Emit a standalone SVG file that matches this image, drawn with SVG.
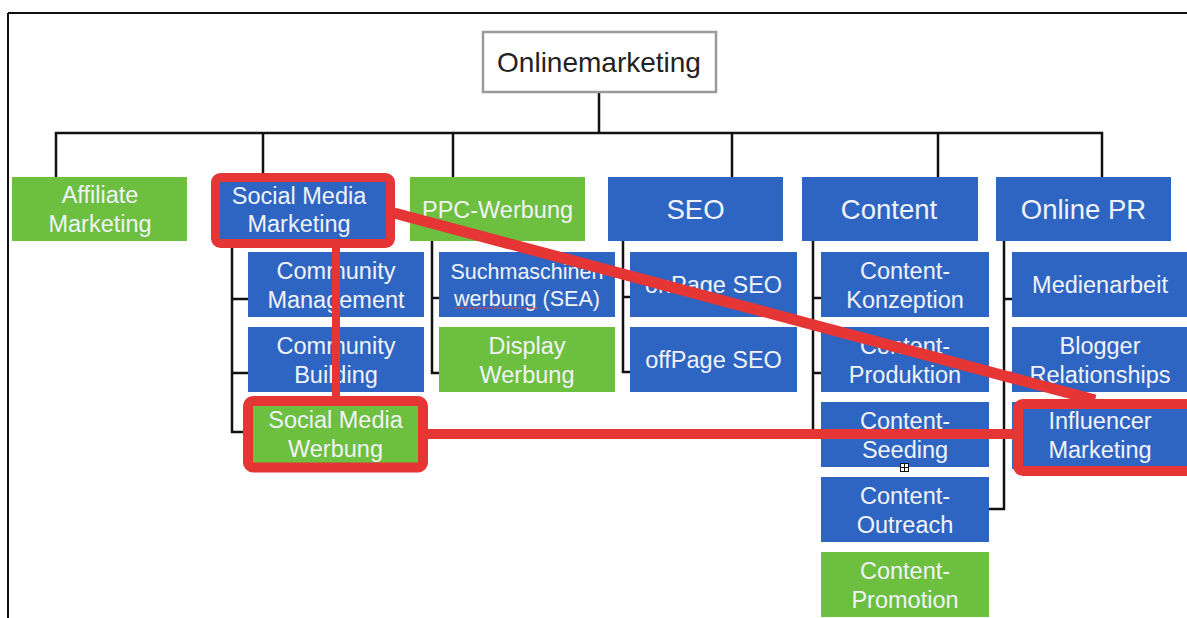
<svg xmlns="http://www.w3.org/2000/svg" width="1187" height="618" viewBox="0 0 1187 618">
<style>
.bl{fill:#2f65c2}
.gr{fill:#6dbf3f}
.t{font-family:"Liberation Sans",Arial,Helvetica,sans-serif;font-size:23.5px;fill:#f1f3f8;text-anchor:middle}
.t27{font-size:27.5px}
.t21{font-size:21.5px}
.con{stroke:#111;stroke-width:2.5;fill:none;stroke-linecap:square}
.red{stroke:#e63535;fill:none;stroke-linejoin:round}
</style>
<rect width="1187" height="618" fill="#fff"/>
<path d="M8 13 H1187 M8 13 V618" stroke="#111" stroke-width="2" fill="none"/>

<g id="connectors" class="con">
<path d="M599 92 V133 M56 133 H1102 M56 133 V177 M263 133 V177 M453 133 V177 M732 133 V177 M938 133 V177 M1102 133 V177"/>
<path d="M232 244 V432 M232 299 H248 M232 373 H248 M232 432 H248"/>
<path d="M432 241 V373 M432 298 H439 M432 373 H439"/>
<path d="M623 241 V372 M623 297 H630 M623 372 H630"/>
<path d="M813 241 V434 M813 298 H821 M813 373 H821 M813 434 H821"/>
<path d="M1004 241 V509 H989 M1004 299 H1012 M1004 373 H1012 M1004 436 H1012"/>
</g>

<g id="onlinemarketing">
<rect x="483" y="32" width="233" height="60" fill="#fff" stroke="#9a9a9a" stroke-width="2.5"/>
<text x="599" y="72" style="font-family:'Liberation Sans',Arial,sans-serif;font-size:28px;fill:#222;text-anchor:middle">Onlinemarketing</text>
</g>

<g id="affiliate"><rect class="gr" x="12" y="177" width="175" height="64"/>
<text class="t" x="100" y="203">Affiliate</text><text class="t" x="100" y="232">Marketing</text></g>
<g id="smm"><rect class="bl" x="215" y="177" width="175" height="66"/>
<text class="t" x="299" y="204">Social Media</text><text class="t" x="299" y="232">Marketing</text></g>
<g id="ppc"><rect class="gr" x="410" y="177" width="175" height="64"/>
<text class="t" x="497.5" y="218">PPC-Werbung</text></g>
<g id="seo"><rect class="bl" x="608" y="177" width="175" height="64"/>
<text class="t t27" x="695.5" y="219">SEO</text></g>
<g id="content"><rect class="bl" x="802" y="177" width="176" height="64"/>
<text class="t t27" x="889" y="219">Content</text></g>
<g id="onlinepr"><rect class="bl" x="996" y="177" width="175" height="64"/>
<text class="t t27" x="1083.5" y="219">Online PR</text></g>

<g id="community-management"><rect class="bl" x="248" y="252" width="176" height="65"/>
<text class="t" x="336" y="279">Community</text><text class="t" x="336" y="308">Management</text></g>
<g id="community-building"><rect class="bl" x="248" y="327" width="176" height="65"/>
<text class="t" x="336" y="354">Community</text><text class="t" x="336" y="383">Building</text></g>
<g id="social-media-werbung"><rect class="gr" x="248" y="401" width="175" height="66"/>
<text class="t" x="335.5" y="428">Social Media</text><text class="t" x="335.5" y="457">Werbung</text></g>

<g id="sea"><rect class="bl" x="439" y="252" width="176" height="65"/>
<text class="t t21" x="527" y="279">Suchmaschinen</text><text class="t t21" x="527" y="306">werbung (SEA)</text>
<path d="M455 308 H538" stroke="#e04545" stroke-width="1.3" stroke-dasharray="2 1.5"/></g>
<g id="display"><rect class="gr" x="439" y="327" width="176" height="65"/>
<text class="t" x="527" y="354">Display</text><text class="t" x="527" y="383">Werbung</text></g>

<g id="onpage"><rect class="bl" x="630" y="252" width="167" height="65"/>
<text class="t" x="713.5" y="293">onPage SEO</text></g>
<g id="offpage"><rect class="bl" x="630" y="327" width="167" height="65"/>
<text class="t" x="713.5" y="368">offPage SEO</text></g>

<g id="konzeption"><rect class="bl" x="821" y="252" width="168" height="65"/>
<text class="t" x="905" y="279">Content-</text><text class="t" x="905" y="308">Konzeption</text></g>
<g id="produktion"><rect class="bl" x="821" y="327" width="168" height="65"/>
<text class="t" x="905" y="354">Content-</text><text class="t" x="905" y="383">Produktion</text></g>
<g id="seeding"><rect class="bl" x="821" y="402" width="168" height="65"/>
<text class="t" x="905" y="429">Content-</text><text class="t" x="905" y="458">Seeding</text></g>
<g id="outreach"><rect class="bl" x="821" y="477" width="168" height="65"/>
<text class="t" x="905" y="504">Content-</text><text class="t" x="905" y="533">Outreach</text></g>
<g id="promotion"><rect class="gr" x="821" y="552" width="168" height="65"/>
<text class="t" x="905" y="579">Content-</text><text class="t" x="905" y="608">Promotion</text></g>

<g id="medienarbeit"><rect class="bl" x="1012" y="252" width="175" height="65"/>
<text class="t" x="1100" y="293">Medienarbeit</text></g>
<g id="blogger"><rect class="bl" x="1012" y="327" width="175" height="65"/>
<text class="t" x="1100" y="354">Blogger</text><text class="t" x="1100" y="383">Relationships</text></g>
<g id="influencer"><rect class="bl" x="1012" y="402" width="175" height="67"/>
<text class="t" x="1100" y="429">Influencer</text><text class="t" x="1100" y="458">Marketing</text></g>

<g id="handle">
<rect x="900.5" y="463.5" width="8" height="8" fill="#fff" stroke="#111" stroke-width="1"/>
<path d="M904.5 463.5 V471.5 M900.5 467.5 H908.5" stroke="#111" stroke-width="1"/>
</g>

<g id="annotations" class="red">
<rect x="215.5" y="177.5" width="175" height="66" rx="5" stroke-width="9"/>
<rect x="248" y="401" width="175" height="66.5" rx="5" stroke-width="10"/>
<rect x="1018" y="404" width="200" height="67" rx="5" stroke-width="10"/>
<path d="M336 248 V396" stroke-width="8"/>
<path d="M428 434 H1013" stroke-width="10"/>
<path d="M394 213 L1095 400" stroke-width="11"/>
</g>
</svg>
